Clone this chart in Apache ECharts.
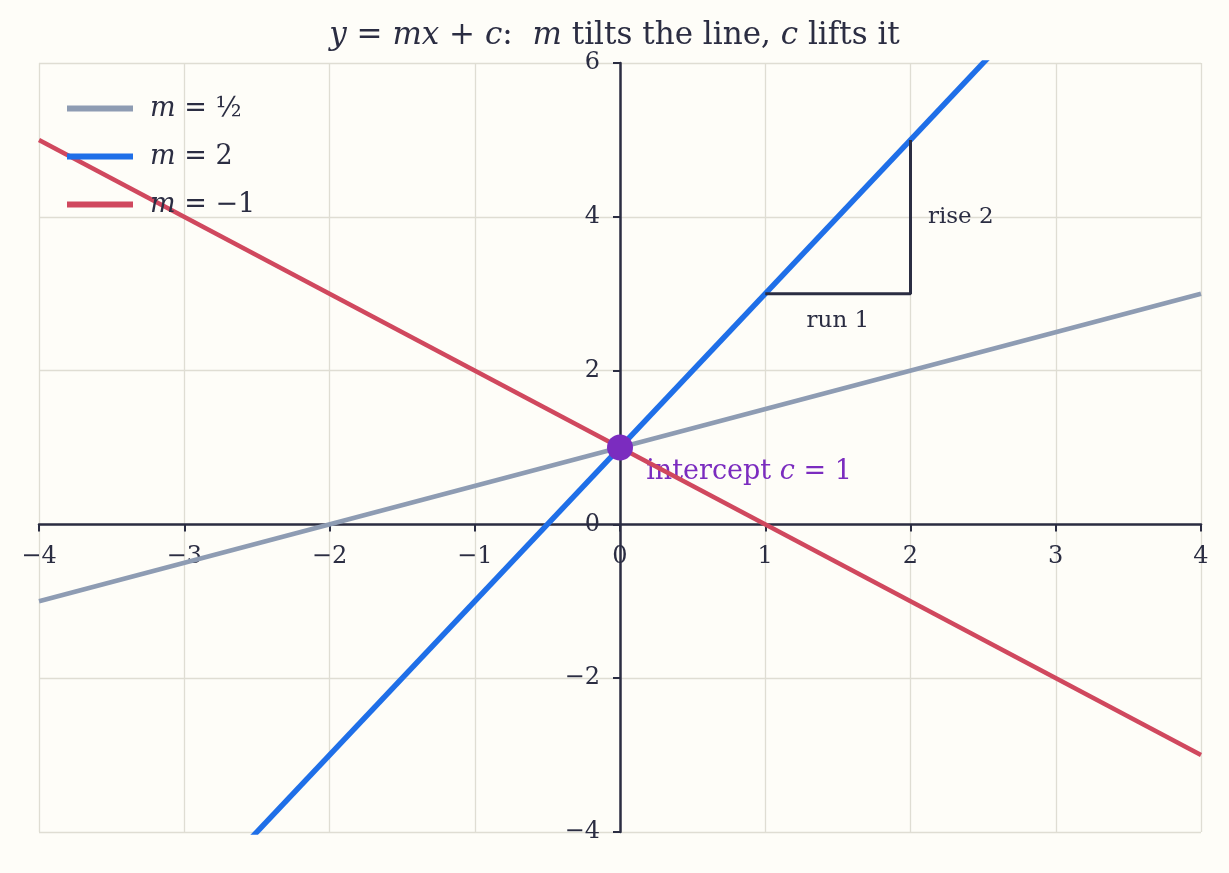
<!DOCTYPE html>
<html lang="en">
<head>
    <meta charset="UTF-8">
    <title>y = mx + c</title>
    <style>
        html, body { margin: 0; padding: 0; background: #fefdf8; }
    </style>
</head>
<body>
<div id="main" style="width: 1229px;height:873px;"></div>
<script type="text/javascript" src="https://cdn.jsdelivr.net/npm/echarts@6/dist/echarts.min.js"></script>
<script>
    // line end points
    var xEnds = [-4, 4];
    var yHalf = [-1, 3];   // m = 1/2
    var yTwo = [-7, 9];    // m = 2 (clipped by the grid)
    var yNeg = [5, -3];    // m = -1
    var seriesNames = ['m = 1/2', 'm = 2', 'm = -1'];
    var seriesColors = ['#8e9cb3', '#1f6fe8', '#d0485e'];

    // slope triangle and intercept
    var triangle = [[1, 3], [2, 3], [2, 5]];
    var intercept = [0, 1];

    var xTicks = [-4, -3, -2, -1, 0, 1, 2, 3, 4];
    var yTicks = [-4, -2, 0, 2, 4, 6];

    var ink = '#2b2d42';
    var purple = '#7b2cbf';
    var font = '"DejaVu Serif", "Liberation Serif", serif';

    function pairs(xs, ys) {
        var out = [];
        for (var i = 0; i < xs.length; i++) out.push([xs[i], ys[i]]);
        return out;
    }
    function minus(v) {
        return String(v).replace('-', '\u2212');
    }

    // tick labels sit on the zero lines, so they are drawn as labelled points
    var xLabelData = xTicks.map(function (t) { return [t, 0]; });
    var yLabelData = yTicks.map(function (t) { return [0, t]; });

    var myChart = echarts.init(document.getElementById('main'));

    var option = {
        backgroundColor: '#fefdf8',
        animation: false,
        title: {
            text: '{i|y} = {i|mx} + {i|c}:  {i|m} tilts the line, {i|c} lifts it',
            left: 'center',
            top: 15,
            textStyle: {
                fontFamily: font,
                fontSize: 31,
                fontWeight: 'normal',
                color: ink,
                rich: {
                    i: { fontFamily: font, fontSize: 31, fontStyle: 'italic', color: ink }
                }
            }
        },
        legend: {
            left: 62,
            top: 90,
            orient: 'vertical',
            itemGap: 21,
            itemWidth: 66,
            itemHeight: 6,
            icon: 'rect',
            data: seriesNames,
            formatter: function (name) {
                if (name === 'm = 1/2') return '{i|m} = \u00bd';
                if (name === 'm = 2') return '{i|m} = 2';
                return '{i|m} = \u22121';
            },
            textStyle: {
                fontFamily: font,
                fontSize: 27,
                color: ink,
                padding: [0, 0, 0, 12],
                rich: {
                    i: { fontFamily: font, fontSize: 27, fontStyle: 'italic', color: ink }
                }
            }
        },
        grid: {
            left: 39,
            right: 28,
            top: 63,
            bottom: 41,
            containLabel: false
        },
        xAxis: {
            type: 'value',
            min: -4,
            max: 4,
            interval: 1,
            axisLine: { onZero: true, lineStyle: { color: ink, width: 2.5 } },
            axisTick: { show: true, length: 7, lineStyle: { color: ink, width: 2 } },
            axisLabel: { show: false },
            splitLine: { show: true, lineStyle: { color: '#dfddd3', width: 1.3 } }
        },
        yAxis: {
            type: 'value',
            min: -4,
            max: 6,
            interval: 2,
            axisLine: { onZero: true, lineStyle: { color: ink, width: 2.5 } },
            axisTick: { show: true, length: 7, lineStyle: { color: ink, width: 2 } },
            axisLabel: { show: false },
            splitLine: { show: true, lineStyle: { color: '#dfddd3', width: 1.3 } }
        },
        series: [
            {
                name: seriesNames[0],
                type: 'line',
                data: pairs(xEnds, yHalf),
                showSymbol: false,
                clip: true,
                color: seriesColors[0],
                lineStyle: { width: 4.5, color: seriesColors[0] }
            },
            {
                name: seriesNames[1],
                type: 'line',
                data: pairs(xEnds, yTwo),
                showSymbol: false,
                clip: true,
                color: seriesColors[1],
                lineStyle: { width: 5.5, color: seriesColors[1] }
            },
            {
                name: seriesNames[2],
                type: 'line',
                data: pairs(xEnds, yNeg),
                showSymbol: false,
                clip: true,
                color: seriesColors[2],
                lineStyle: { width: 4.5, color: seriesColors[2] }
            },
            {
                name: 'slope triangle',
                type: 'line',
                data: triangle,
                showSymbol: false,
                color: ink,
                lineStyle: { width: 3, color: ink },
                z: 3
            },
            {
                name: 'x tick labels',
                type: 'scatter',
                symbolSize: 0,
                silent: true,
                clip: false,
                itemStyle: { opacity: 1 },
                data: xLabelData,
                label: {
                    show: true,
                    position: 'bottom',
                    distance: 20,
                    formatter: function (p) { return minus(p.value[0]); },
                    fontFamily: font,
                    fontSize: 24,
                    color: ink
                },
                z: 1
            },
            {
                name: 'y tick labels',
                type: 'scatter',
                symbolSize: 0,
                silent: true,
                clip: false,
                itemStyle: { opacity: 1 },
                data: yLabelData,
                label: {
                    show: true,
                    position: 'left',
                    distance: 20,
                    formatter: function (p) { return minus(p.value[1]); },
                    fontFamily: font,
                    fontSize: 24,
                    color: ink
                },
                z: 1
            },
            {
                name: 'notes',
                type: 'scatter',
                symbolSize: 0,
                silent: true,
                itemStyle: { opacity: 1 },
                data: [
                    { value: [1.5, 2.65], label: { formatter: 'run 1', align: 'center' } },
                    { value: [2.12, 4], label: { formatter: 'rise 2', align: 'left' } },
                    {
                        value: [0.18, 0.68],
                        label: {
                            formatter: 'intercept {i|c} = 1',
                            align: 'left',
                            fontSize: 27,
                            color: purple,
                            rich: { i: { fontFamily: font, fontSize: 27, fontStyle: 'italic', color: purple } }
                        }
                    }
                ],
                label: {
                    show: true,
                    position: 'inside',
                    fontFamily: font,
                    fontSize: 23,
                    color: ink,
                    verticalAlign: 'middle'
                }
            },
            {
                name: 'intercept',
                type: 'scatter',
                data: [intercept],
                symbolSize: 26,
                itemStyle: { color: purple, opacity: 1 },
                z: 5
            }
        ]
    };

    myChart.setOption(option);
</script>
</body>
</html>
